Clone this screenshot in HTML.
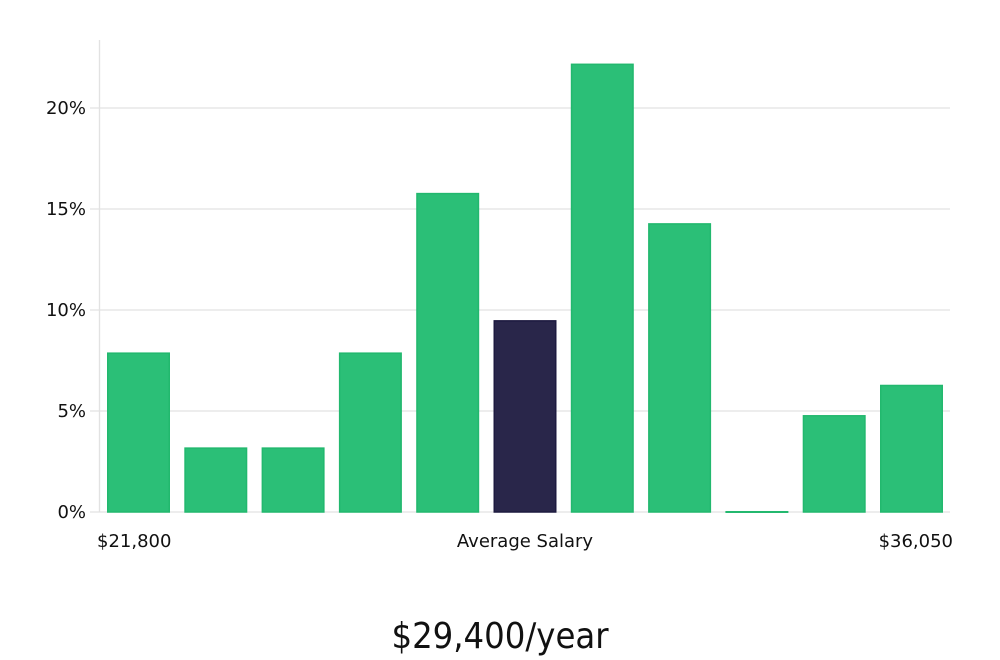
<!DOCTYPE html>
<html><head><meta charset="utf-8"><style>
html,body{margin:0;padding:0;background:#fff;width:1000px;height:660px;overflow:hidden}
svg text{font-family:"DejaVu Sans","Liberation Sans",sans-serif}
</style></head><body>
<svg id="chart" width="1000" height="660" xmlns="http://www.w3.org/2000/svg">
<g id="grid"></g>
<g id="bars"></g>
<g id="yaxis"></g>
<text x="97" y="547" font-size="18" fill="#111">$21,800</text>
<text x="525" y="547" font-size="18" fill="#111" text-anchor="middle">Average Salary</text>
<text x="953" y="547" font-size="18" fill="#111" text-anchor="end">$36,050</text>
<text x="500" y="648" font-size="36" fill="#111" text-anchor="middle" style="font-family:'Liberation Sans Narrow','DejaVu Sans Condensed','Liberation Sans',sans-serif">$29,400/year</text>
</svg>
<script>
const values=[7.9,3.2,3.2,7.9,15.8,9.5,22.2,14.3,0.05,4.8,6.3];
const highlightIndex=5;
const yTicks=[0,5,10,15,20];
const tickLabels=["0%","5%","10%","15%","20%"];
const NS="http://www.w3.org/2000/svg";
const y0=512,pxPer=404/20;
const y=v=>y0-v*pxPer;
const x0=107,step=77.3,bw=63;
const x=i=>x0+i*step;
function mk(tag,attrs,parent){const e=document.createElementNS(NS,tag);for(const k in attrs)e.setAttribute(k,attrs[k]);parent.appendChild(e);return e;}
const grid=document.getElementById('grid'),yaxis=document.getElementById('yaxis'),bars=document.getElementById('bars');
yTicks.forEach((t,i)=>{
  const l=mk('line',{x1:90,x2:950,y1:y(t),y2:y(t),stroke:'#e2e2e2','stroke-width':1.3},grid);
  
  
  const tx=mk('text',{x:86,y:y(t)+6,'font-size':18,fill:'#111','text-anchor':'end'},yaxis);
  tx.textContent=tickLabels[i];
  
  
});
const ax=mk('line',{x1:99.5,x2:99.5,y1:40,y2:512,stroke:'#e2e2e2','stroke-width':1.3},yaxis);


values.forEach((v,i)=>{
  const hi=i===highlightIndex;
  const h=Math.max(v*pxPer,1);
  const r=mk('rect',{x:x(i)+0.75,y:y0-h+0.75,width:bw-1.5,height:Math.max(h-0.75,0.5),fill:hi?'#29264a':'#2bbf77',stroke:hi?'#1d1a40':'#22b86e','stroke-width':1.5},bars);
  
  
});
</script>
</body></html>
